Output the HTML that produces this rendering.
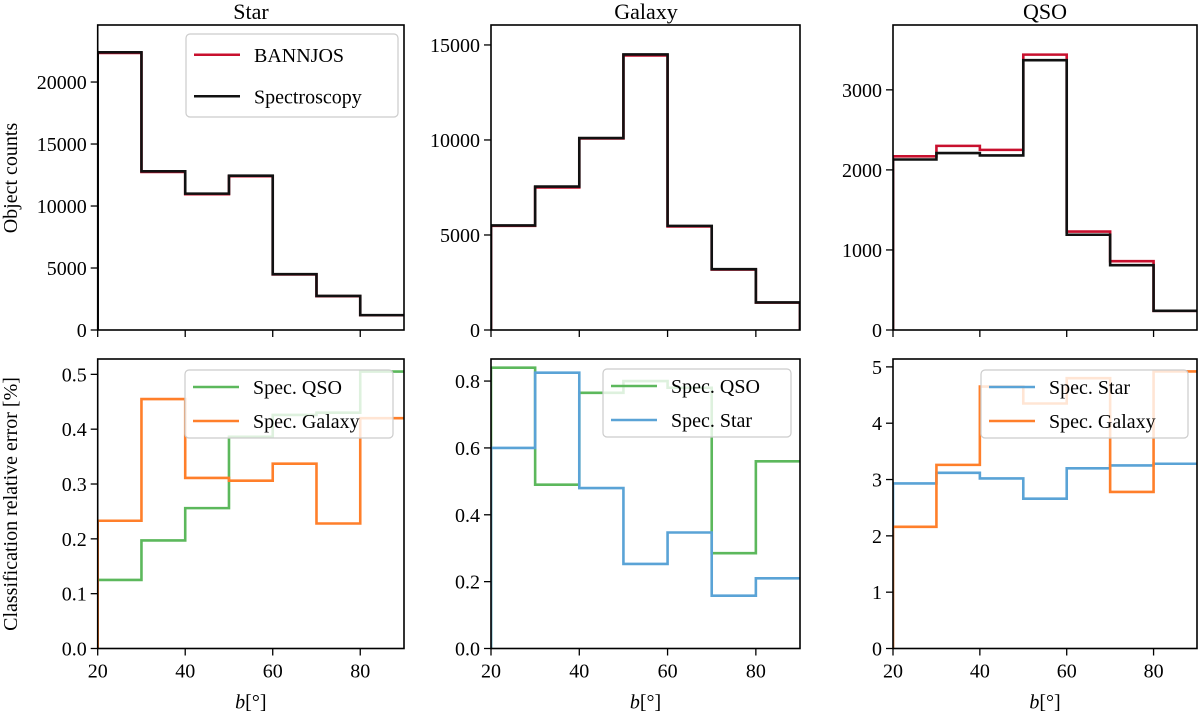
<!DOCTYPE html>
<html><head><meta charset="utf-8"><style>
body{margin:0;background:#fff}
svg text{font-family:"Liberation Serif",serif;fill:#000}
</style></head><body>
<svg id="c" width="1200" height="714"></svg>
<script>
const edges=[20,30,40,50,60,70,80,90];
const xTicks=[20,40,60,80];
const starSpec=[22400,12800,11000,12450,4500,2750,1200];
const starBann=[22350,12750,10950,12400,4480,2730,1190];
const galSpec=[5500,7550,10100,14500,5480,3200,1450];
const galBann=[5480,7500,10080,14450,5450,3180,1440];
const qsoSpec=[2130,2210,2180,3370,1190,810,240];
const qsoBann=[2170,2300,2250,3440,1230,860,240];
const starErrQSO=[0.125,0.197,0.256,0.386,0.426,0.43,0.505];
const starErrGal=[0.233,0.455,0.311,0.306,0.337,0.228,0.42];
const galErrQSO=[0.84,0.49,0.765,0.80,0.78,0.285,0.56];
const galErrStar=[0.60,0.825,0.48,0.253,0.347,0.158,0.21];
const qsoErrStar=[2.93,3.12,3.02,2.66,3.2,3.25,3.28];
const qsoErrGal=[2.16,3.26,4.65,4.35,4.8,2.78,4.92];
const topTicks=[[0,5000,10000,15000,20000],[0,5000,10000,15000],[0,1000,2000,3000]];
const botTicks=[[0,0.1,0.2,0.3,0.4,0.5],[0,0.2,0.4,0.6,0.8],[0,1,2,3,4,5]];
const NS="http://www.w3.org/2000/svg";
const svg=document.getElementById('c');
function el(t,a,p){const e=document.createElementNS(NS,t);for(const k in a)e.setAttribute(k,a[k]);(p||svg).appendChild(e);return e;}
let cid=0;
function panel(x0,x1,y0,y1,ymax,ticks,fmt,series,leg,legBox,name,showX,dropRight){
  const g=el('g',{});
  
  
  const sx=v=>x0+(v-20)/70*(x1-x0);
  const sy=v=>y1-v/ymax*(y1-y0);
  cid++;
  const cp=el('clipPath',{id:'cp'+cid},g);el('rect',{x:x0,y:y0,width:x1-x0,height:y1-y0},cp);
  series.forEach(s=>{
    let d='M'+sx(edges[0])+','+sy(0);
    s.v.forEach((v,i)=>{d+=' L'+sx(edges[i])+','+sy(v)+' L'+sx(edges[i+1])+','+sy(v);});
    if(dropRight)d+=' L'+sx(90)+','+sy(0);
    const p=el('path',{d:d,fill:'none',stroke:s.c,'stroke-width':2.6,'clip-path':'url(#cp'+cid+')'},g);
    
    
  });
  el('rect',{x:x0,y:y0,width:x1-x0,height:y1-y0,fill:'none',stroke:'#000','stroke-width':1.6},g);
  ticks.forEach(t=>{const y=sy(t);el('line',{x1:x0-7,x2:x0,y1:y,y2:y,stroke:'#000','stroke-width':1.3},g);
    const tx=el('text',{x:x0-11,y:y+7,'text-anchor':'end','font-size':20},g);tx.textContent=fmt(t);});
  xTicks.forEach(t=>{const x=sx(t);el('line',{x1:x,x2:x,y1:y1,y2:y1+7,stroke:'#000','stroke-width':1.3},g);
    if(showX){const tx=el('text',{x:x,y:y1+29,'text-anchor':'middle','font-size':20},g);tx.textContent=t;}});
  if(showX){const xl=el('text',{x:(x0+x1)/2,y:y1+60,'text-anchor':'middle','font-size':20},g);xl.innerHTML='<tspan font-style="italic">b</tspan>[°]';}
  if(leg.length){
  const lg=el('g',{},g);
  
  
  el('rect',{x:legBox[0],y:legBox[1],width:legBox[2],height:legBox[3],rx:4,fill:'rgba(255,255,255,0.8)',stroke:'#ccc','stroke-width':1.2},lg);
  leg.forEach((l,i)=>{const yy=legBox[1]+legBox[3]*(i*2+1)/(leg.length*2);
    el('line',{x1:legBox[0]+8,x2:legBox[0]+54,y1:yy,y2:yy,stroke:l.c,'stroke-width':2.6},lg);
    const t=el('text',{x:legBox[0]+68,y:yy+7,'font-size':20},lg);t.textContent=l.n;});
  }
}
const red='#c8102e',blk='#111',grn='#5cb85c',org='#ff7f2a',blu='#5aa3d6';
const X=[[97.7,404],[491,800],[893,1197]];
const fi=t=>String(t), f1=t=>t.toFixed(1);
panel(X[0][0],X[0][1],25,330,24600,topTicks[0],fi,[{v:starBann,c:red,n:'star-bannjos'},{v:starSpec,c:blk,n:'star-spectroscopy'}],[{n:'BANNJOS',c:red},{n:'Spectroscopy',c:blk}],[186,34,212,83],'star-counts-panel',false,false);
panel(X[1][0],X[1][1],25,330,16050,topTicks[1],fi,[{v:galBann,c:red,n:'galaxy-bannjos'},{v:galSpec,c:blk,n:'galaxy-spectroscopy'}],[],[0,0,0,0],'galaxy-counts-panel',false,true);
panel(X[2][0],X[2][1],25,330,3810,topTicks[2],fi,[{v:qsoBann,c:red,n:'qso-bannjos'},{v:qsoSpec,c:blk,n:'qso-spectroscopy'}],[],[0,0,0,0],'qso-counts-panel',false,false);
panel(X[0][0],X[0][1],359,648.5,0.528,botTicks[0],f1,[{v:starErrQSO,c:grn,n:'star-err-qso'},{v:starErrGal,c:org,n:'star-err-galaxy'}],[{n:'Spec. QSO',c:grn},{n:'Spec. Galaxy',c:org}],[185,370,208,68],'star-error-panel',true,false);
panel(X[1][0],X[1][1],359,648.5,0.866,botTicks[1],f1,[{v:galErrQSO,c:grn,n:'galaxy-err-qso'},{v:galErrStar,c:blu,n:'galaxy-err-star'}],[{n:'Spec. QSO',c:grn},{n:'Spec. Star',c:blu}],[603,369,188,68],'galaxy-error-panel',true,false);
panel(X[2][0],X[2][1],359,648.5,5.14,botTicks[2],fi,[{v:qsoErrStar,c:blu,n:'qso-err-star'},{v:qsoErrGal,c:org,n:'qso-err-galaxy'}],[{n:'Spec. Star',c:blu},{n:'Spec. Galaxy',c:org}],[981,370,207,68],'qso-error-panel',true,false);
[['Star',251],['Galaxy',646],['QSO',1045]].forEach(([t,x])=>{const e=el('text',{x:x,y:19,'text-anchor':'middle','font-size':22});e.textContent=t;

});
const yl1=el('text',{transform:'translate(17,178) rotate(-90)','text-anchor':'middle','font-size':20});yl1.textContent='Object counts';


const yl2=el('text',{transform:'translate(17,504) rotate(-90)','text-anchor':'middle','font-size':20});yl2.textContent='Classification relative error [%]';


</script>
</body></html>
